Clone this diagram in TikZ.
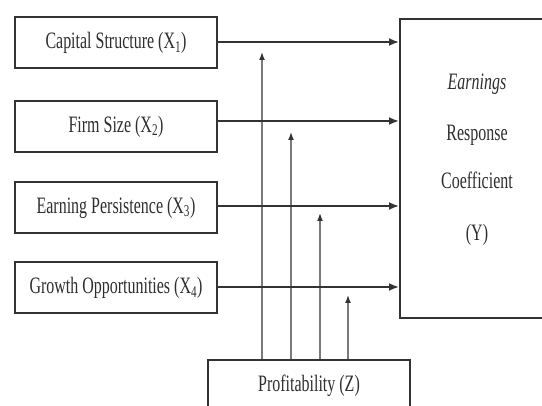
\documentclass[tikz,border=0pt]{standalone}
\usepackage{fontspec}
\setmainfont{Liberation Serif}[FakeStretch=0.68]
\usetikzlibrary{arrows.meta}
\definecolor{boxc}{HTML}{333333}
\definecolor{vc}{HTML}{7A7A7A}
\definecolor{txtc}{HTML}{2E2E2E}
\begin{document}
\begin{tikzpicture}[x=1pt,y=-1pt,
  lbl/.style={text=txtc,font=\fontsize{23.5}{28}\selectfont,inner sep=0pt},
  box/.style={draw=boxc,line width=2pt,minimum width=202pt,minimum height=51pt,inner sep=0pt,text=txtc,font=\fontsize{23.5}{28}\selectfont},
  harrow/.style={draw=boxc,line width=1.8pt,-{Latex[length=10pt,width=8pt]}},
  varrow/.style={draw=vc,line width=1.5pt,-{Latex[length=8pt,width=6pt,color=boxc]}}]
\useasboundingbox (0,0) rectangle (542,406);
\node[box] (c1) at (116,43) {Capital Structure (X\textsubscript{1})};
\node[box] (c2) at (116,126.5) {Firm Size (X\textsubscript{2})};
\node[box] (c3) at (116,207.5) {Earning Persistence (X\textsubscript{3})};
\node[box] (c4) at (116,288) {Growth Opportunities (X\textsubscript{4})};
\node[box,minimum width=160pt,minimum height=299pt] (Y) at (480,168.5) {};
\node[lbl,anchor=base] (t1) at (477,90) {\itshape Earnings};
\node[lbl,anchor=base] (t2) at (477,141) {Response};
\node[lbl,anchor=base] (t3) at (477,189) {Coefficient};
\node[lbl,anchor=base] (t4) at (477,241) {(Y)};
\node[box,minimum height=52pt] (P) at (309,386) {Profitability (Z)};
% vertical arrows from Profitability
\coordinate (e1) at (262,52);
\coordinate (e2) at (291,132);
\coordinate (e3) at (320,213);
\coordinate (e4) at (348,295);
\draw[varrow] (P.north -| e1) -- (e1);
\draw[varrow] (P.north -| e2) -- (e2);
\draw[varrow] (P.north -| e3) -- (e3);
\draw[varrow] (P.north -| e4) -- (e4);
% horizontal arrows to Y
\draw[harrow] ([yshift=1pt]c1.east) -- ([yshift=1pt]c1.east -| Y.west);
\draw[harrow] ([yshift=5.5pt]c2.east) -- ([yshift=5.5pt]c2.east -| Y.west);
\draw[harrow] ([yshift=1.5pt]c3.east) -- ([yshift=1.5pt]c3.east -| Y.west);
\draw[harrow] ([yshift=1pt]c4.east) -- ([yshift=1pt]c4.east -| Y.west);
\end{tikzpicture}
\end{document}
